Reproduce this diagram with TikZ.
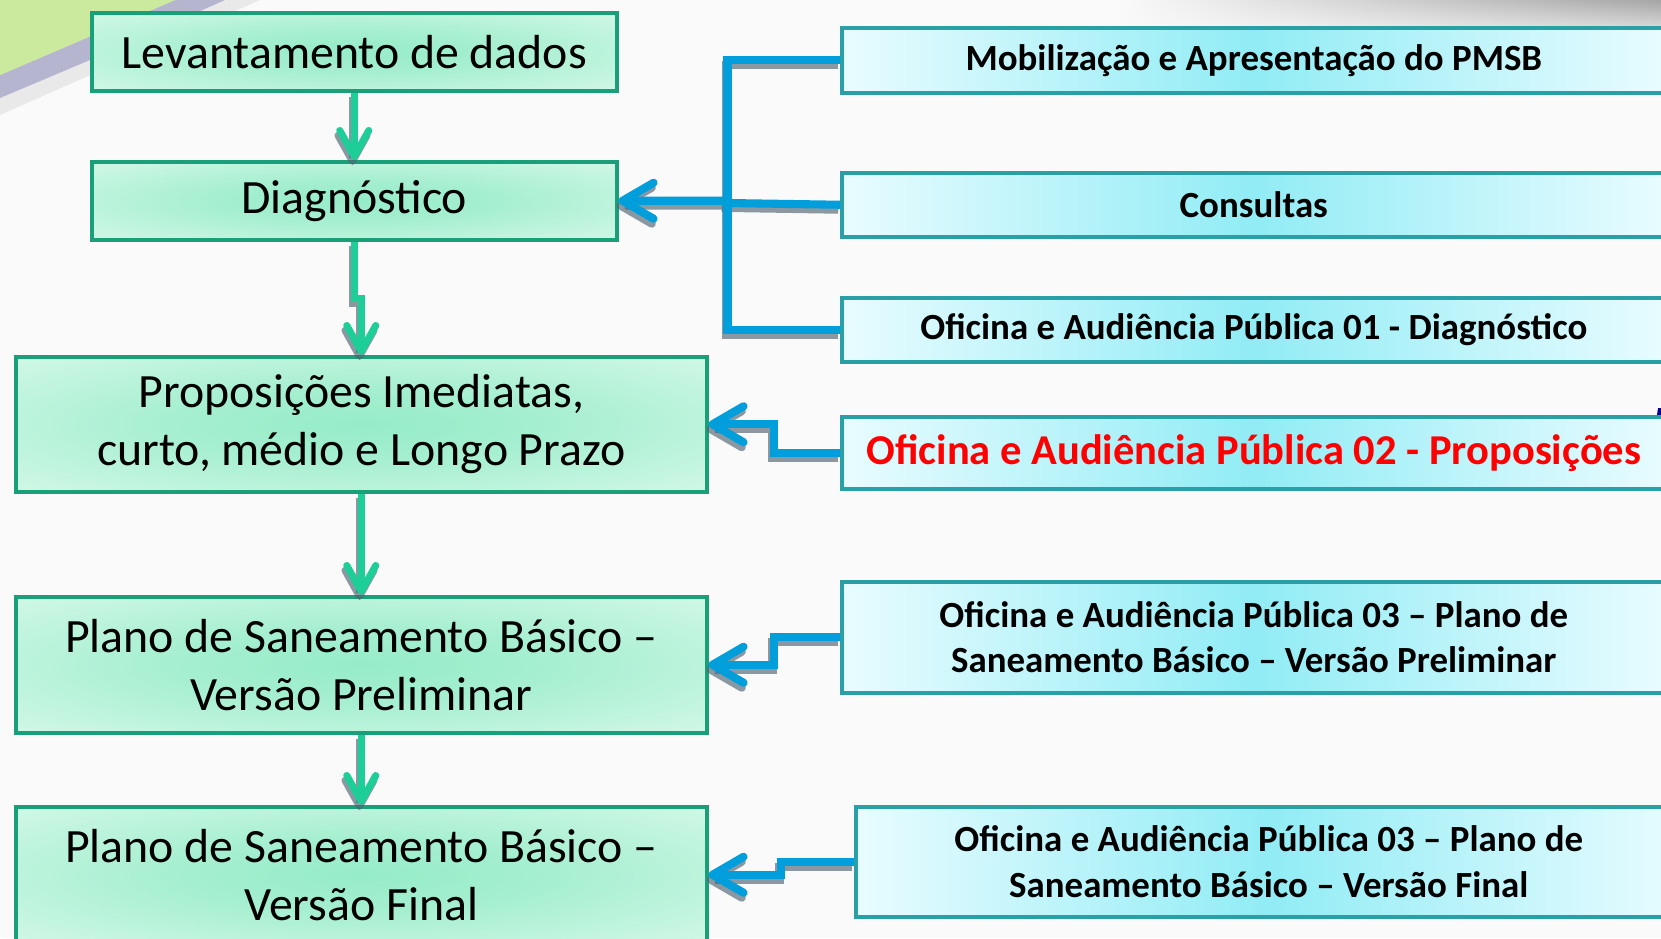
\documentclass[tikz,border=0pt]{standalone}
\usepackage{fontspec}
\setmainfont{Carlito}
\usetikzlibrary{arrows.meta,calc,fadings}
\definecolor{fundo}{RGB}{250,250,250}
\definecolor{verdeborda}{RGB}{26,160,120}
\definecolor{verdemeio}{RGB}{150,236,200}
\definecolor{verdeclaro}{RGB}{238,253,246}
\definecolor{verdeseta}{RGB}{30,206,152}
\definecolor{cianoborda}{RGB}{40,160,165}
\definecolor{cianomeio}{RGB}{145,236,245}
\definecolor{cianoclaro}{RGB}{232,252,255}
\definecolor{azulseta}{RGB}{0,158,219}
\definecolor{sombra}{RGB}{80,100,115}
\pgfdeclareradialshading{verderad}{\pgfpoint{0bp}{0bp}}{%
    color(0bp)=(verdemeio); color(12bp)=(verdemeio!85!verdeclaro);
    color(50bp)=(verdeclaro)}
\tikzfading[name=fadeleft, left color=transparent!100, right color=transparent!0]
\newcommand{\ligacoes}[2]{%
    \draw[seta, draw=#1] (levantamento) -- (diagnostico);
    \draw[seta, draw=#1] (diagnostico.south)
        |- ($(diagnostico.south)!0.5!(proposicoes.north)$)
        -| (proposicoes.north);
    \draw[seta, draw=#1] (proposicoes) -- (preliminar);
    \draw[seta, draw=#1] (preliminar) -- (final);
    \draw[liga, draw=#2] (mobilizacao.west) -| (barra);
    \draw[liga, draw=#2] (oficina1.west) -| (barra);
    \draw[ligaseta, draw=#2] (consultas.west) -- (barra) |- (diagnostico.east);
    \draw[ligaseta, draw=#2] (oficina2.west)
        -| ($(oficina2.west)!0.5!(proposicoes.east)$)
        |- (proposicoes.east);
    \draw[ligaseta, draw=#2] (oficina3.west)
        -| ($(oficina3.west)!0.5!(preliminar.east)$)
        |- (preliminar.east);
    \draw[ligaseta, draw=#2] (oficina4.west)
        -| ($(oficina4.west)!0.5!(final.east)$)
        |- (final.east);}
\begin{document}
\begin{tikzpicture}
    \tikzstyle{etapa} = [rectangle, draw=verdeborda, line width=1pt,
        shading=verderad, align=center,
        font=\fontsize{13.6}{16.6}\selectfont]
    \tikzstyle{evento} = [rectangle, draw=cianoborda, line width=1pt,
        left color=cianoclaro, right color=cianoclaro, middle color=cianomeio,
        align=center, font=\bfseries\fontsize{10.5}{12.9}\selectfont]
    \tikzstyle{seta} = [line width=2pt,
        -{Straight Barb[length=2.6mm, width=2.9mm, round]}]
    \tikzstyle{liga} = [line width=2.3pt]
    \tikzstyle{ligaseta} = [liga,
        -{Straight Barb[length=3.1mm, width=3.6mm, round]}]

    \clip (0,0) rectangle (16.61,-9.38);
    \fill[fundo] (0,0) rectangle (16.61,-9.38);

    % fundo do slide
    \shade[top color=black!35, bottom color=fundo, path fading=fadeleft]
        (11.2,0) rectangle (16.61,-0.45);
    \fill[gray!30, opacity=0.5] (0,0) -- (2.6,0) -- (0,-1.15) -- cycle;
    \fill[blue!25!gray!60, opacity=0.7] (1.75,0) -- (2.25,0) -- (0.9,-0.6)
        -- (0,-0.98) -- (0,-0.75) -- (0.7,-0.45) -- cycle;
    \fill[yellow!50!green!40] (0,0) -- (1.75,0) -- (0.7,-0.45)
        -- (0,-0.75) -- cycle;
    \fill[blue!60!black] (16.53,-4.42) -- (16.58,-4.08) -- (16.61,-4.08)
        -- (16.61,-4.42) -- cycle;

    \node(levantamento) [etapa, minimum width=5.25cm, minimum height=0.78cm]
        at (0.90,-0.11) [anchor=north west]
        {Levantamento de dados};
    \node(diagnostico) [etapa, minimum width=5.25cm, minimum height=0.78cm]
        at (0.90,-1.60) [anchor=north west]
        {Diagnóstico};
    \node(proposicoes) [etapa, minimum width=6.91cm, minimum height=1.35cm]
        at (0.14,-3.55) [anchor=north west]
        {Proposições Imediatas,\\ curto, médio e Longo Prazo};
    \node(preliminar) [etapa, minimum width=6.91cm, minimum height=1.36cm]
        at (0.14,-5.95) [anchor=north west]
        {Plano de Saneamento Básico –\\ Versão Preliminar};
    \node(final) [etapa, minimum width=6.91cm, minimum height=1.36cm]
        at (0.14,-8.05) [anchor=north west]
        {Plano de Saneamento Básico –\\ Versão Final};

    \node(mobilizacao) [evento, minimum width=8.24cm, minimum height=0.65cm]
        at (8.40,-0.26) [anchor=north west]
        {Mobilização e Apresentação do PMSB};
    \node(consultas) [evento, minimum width=8.24cm, minimum height=0.64cm]
        at (8.40,-1.71) [anchor=north west]
        {Consultas};
    \node(oficina1) [evento, minimum width=8.24cm, minimum height=0.64cm]
        at (8.40,-2.96) [anchor=north west]
        {Oficina e Audiência Pública 01 - Diagnóstico};
    \node(oficina2) [evento, minimum width=8.24cm, minimum height=0.72cm,
        text=red, font=\bfseries\fontsize{12.1}{14.5}\selectfont]
        at (8.40,-4.15) [anchor=north west]
        {Oficina e Audiência Pública 02 - Proposições};
    \node(oficina3) [evento, minimum width=8.24cm, minimum height=1.11cm]
        at (8.40,-5.80) [anchor=north west]
        {Oficina e Audiência Pública 03 – Plano de\\
        Saneamento Básico – Versão Preliminar};
    \node(oficina4) [evento, minimum width=8.26cm, minimum height=1.10cm]
        at (8.54,-8.05) [anchor=north west]
        {Oficina e Audiência Pública 03 – Plano de\\
        Saneamento Básico – Versão Final};

    \coordinate(barra) at (7.275,-2.03);

    % sombra das ligacoes
    \begin{scope}[transform canvas={xshift=-0.5pt, yshift=-1.4pt},
        opacity=0.65]
        \ligacoes{sombra}{sombra}
    \end{scope}
    \ligacoes{verdeseta}{azulseta}
\end{tikzpicture}
\end{document}
